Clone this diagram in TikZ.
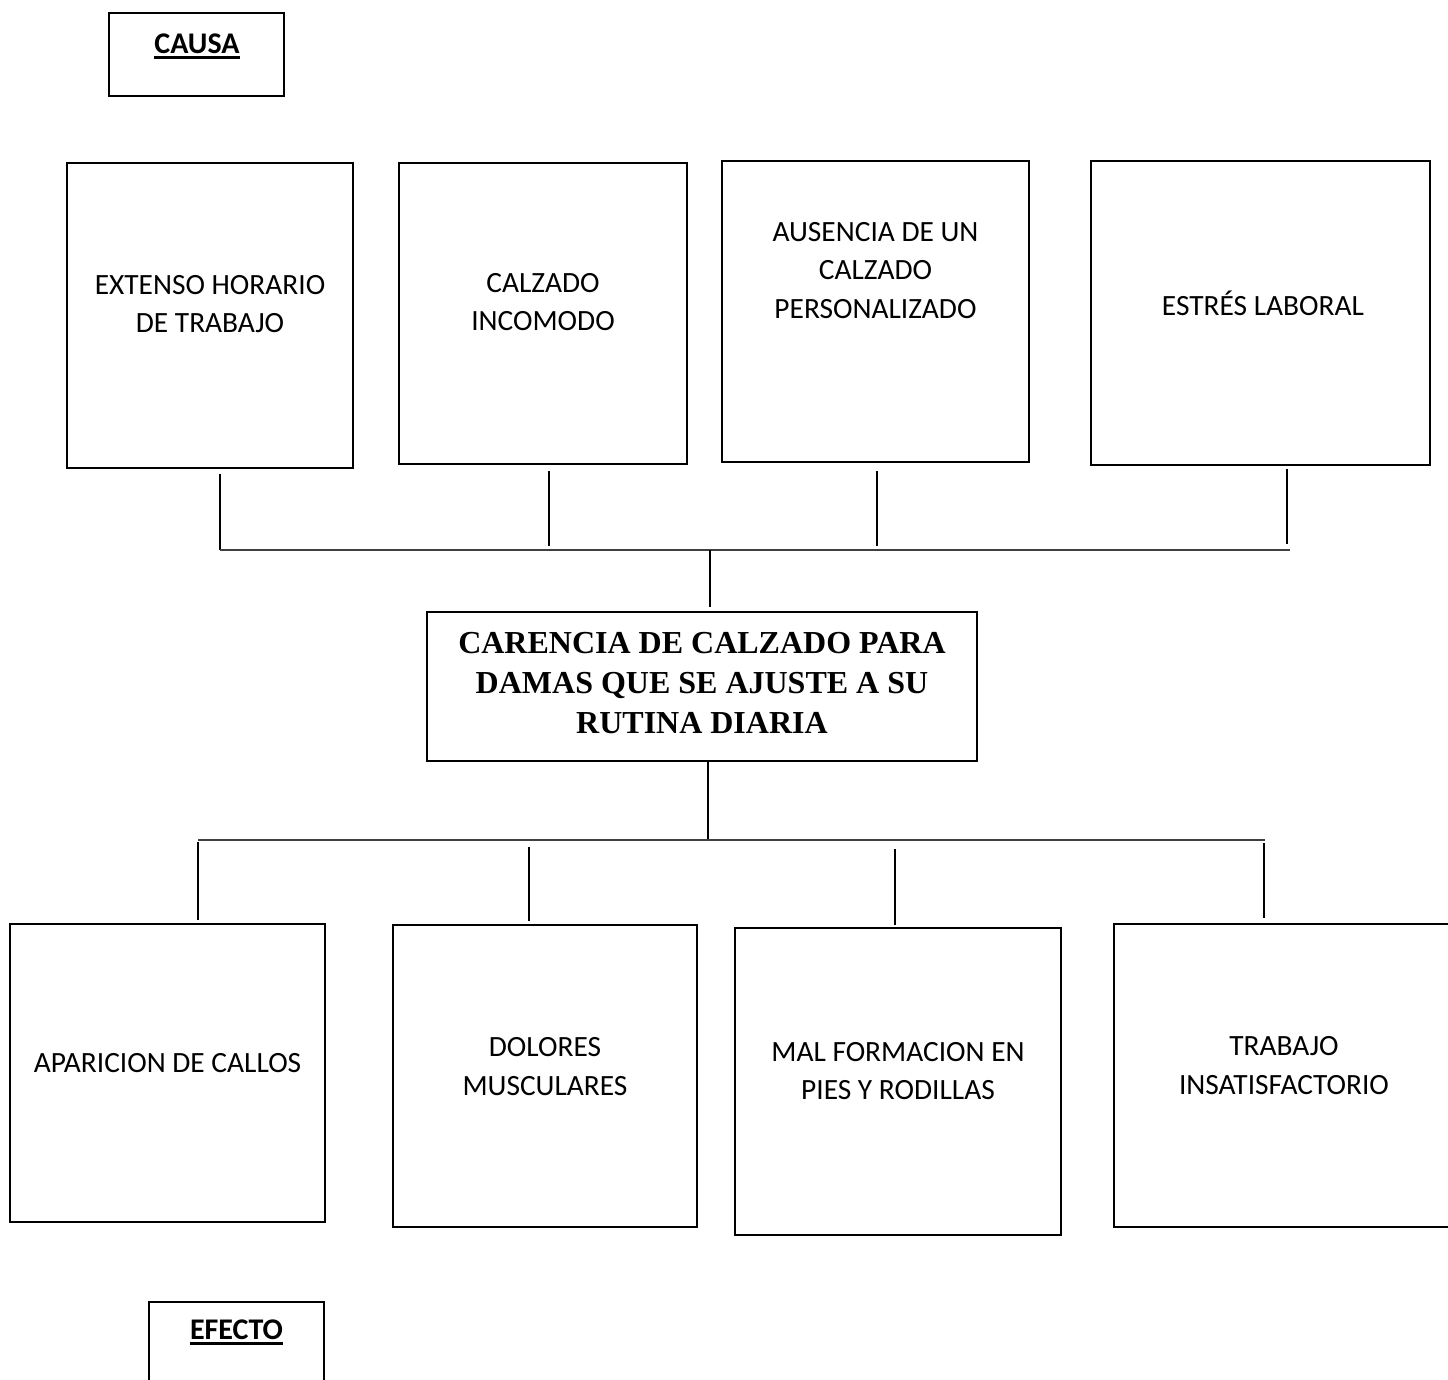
\documentclass[tikz,border=0pt]{standalone}
\usepackage{fontspec}
\setmainfont{Carlito}
\newfontfamily\serifbold{Liberation Serif}
\newcommand\thickul[1]{\vtop{\hbox{#1}\kern1.4pt\hrule height 1.3pt}}
\begin{document}
\begin{tikzpicture}[x=0.5pt,y=-0.5pt,
  box/.style={draw=black,line width=1.4pt,inner sep=0pt},
  lbl/.style={align=center,inner sep=0pt,font=\fontsize{14.7}{19.2}\selectfont},
  head/.style={inner sep=0pt,font=\bfseries\fontsize{15}{17}\selectfont},
  link/.style={draw=black,line width=0.55pt},
  bar/.style={draw=black!75,line width=1pt}]
\useasboundingbox (0,0) rectangle (1448,1380);

% title boxes
\node[box,minimum width=87.5pt,minimum height=41.5pt] (causa) at (196.5,54.5) {};
\node[head] (causaT) at (197,46) {\thickul{CAUSA}};
\node[box,minimum width=87.5pt,minimum height=41.5pt] (efecto) at (236.5,1343.5) {};
\node[head] (efectoT) at (236.5,1332) {\thickul{EFECTO}};

% causes
\node[box,minimum width=143pt,minimum height=152.5pt] (c1) at (210,315.5) {};
\node[lbl] (c1T) at (210,304) {EXTENSO HORARIO\\DE TRABAJO};
\node[box,minimum width=144pt,minimum height=150.5pt] (c2) at (543,313.5) {};
\node[lbl] (c2T) at (543,302) {CALZADO\\INCOMODO};
\node[box,minimum width=153.5pt,minimum height=150.5pt] (c3) at (875.5,311.5) {};
\node[lbl] (c3T) at (875.5,270.5) {AUSENCIA DE UN\\CALZADO\\PERSONALIZADO};
\node[box,minimum width=169.5pt,minimum height=152pt] (c4) at (1260.5,313) {};
\node[lbl] (c4T) at (1263,303) {ESTRÉS LABORAL};

% central problem
\node[box,minimum width=275pt,minimum height=74.5pt] (prob) at (702,686.5) {};
\node[align=center,inner sep=0pt,font=\serifbold\bfseries\fontsize{16}{19.8}\selectfont] (probT) at (702,683)
  {CARENCIA DE CALZADO PARA\\DAMAS QUE SE AJUSTE A SU\\RUTINA DIARIA};

% effects
\node[box,minimum width=157.5pt,minimum height=149pt] (e1) at (167.5,1073) {};
\node[lbl] (e1T) at (167.5,1063) {APARICION DE CALLOS};
\node[box,minimum width=152pt,minimum height=151pt] (e2) at (545,1076) {};
\node[lbl] (e2T) at (545,1066.5) {DOLORES\\MUSCULARES};
\node[box,minimum width=163pt,minimum height=153.5pt] (e3) at (898,1081.5) {};
\node[lbl] (e3T) at (898,1071) {MAL FORMACION EN\\PIES Y RODILLAS};
\node[box,minimum width=170pt,minimum height=151.5pt] (e4) at (1284,1075.5) {};
\node[lbl] (e4T) at (1284,1065.5) {TRABAJO\\INSATISFACTORIO};

% cause connectors
\coordinate (a1) at (220,474);  \coordinate (b1) at (220,550);
\coordinate (a2) at (549,471);  \coordinate (b2) at (549,546);
\coordinate (a3) at (877,471);  \coordinate (b3) at (877,546);
\coordinate (a4) at (1287,469); \coordinate (b4) at (1287,544);
\coordinate (barR) at (1290,550);
\coordinate (stemU) at (710,550); \coordinate (stemUe) at (710,607);
\draw[link] (a1) -- (b1);
\draw[link] (a2) -- (b2);
\draw[link] (a3) -- (b3);
\draw[link] (a4) -- (b4);
\draw[bar] (b1) -- (barR);
\draw[link] (stemU) -- (stemUe);

% effect connectors
\coordinate (stemD) at (708,761); \coordinate (stemDe) at (708,840);
\coordinate (barL2) at (198,840); \coordinate (barR2) at (1265,840);
\coordinate (f1) at (198,842);  \coordinate (g1) at (198,920);
\coordinate (f2) at (529,847);  \coordinate (g2) at (529,921);
\coordinate (f3) at (895,849);  \coordinate (g3) at (895,925);
\coordinate (f4) at (1264,843); \coordinate (g4) at (1264,918);
\draw[link] (stemD) -- (stemDe);
\draw[bar] (barL2) -- (barR2);
\draw[link] (f1) -- (g1);
\draw[link] (f2) -- (g2);
\draw[link] (f3) -- (g3);
\draw[link] (f4) -- (g4);
\end{tikzpicture}
\end{document}
